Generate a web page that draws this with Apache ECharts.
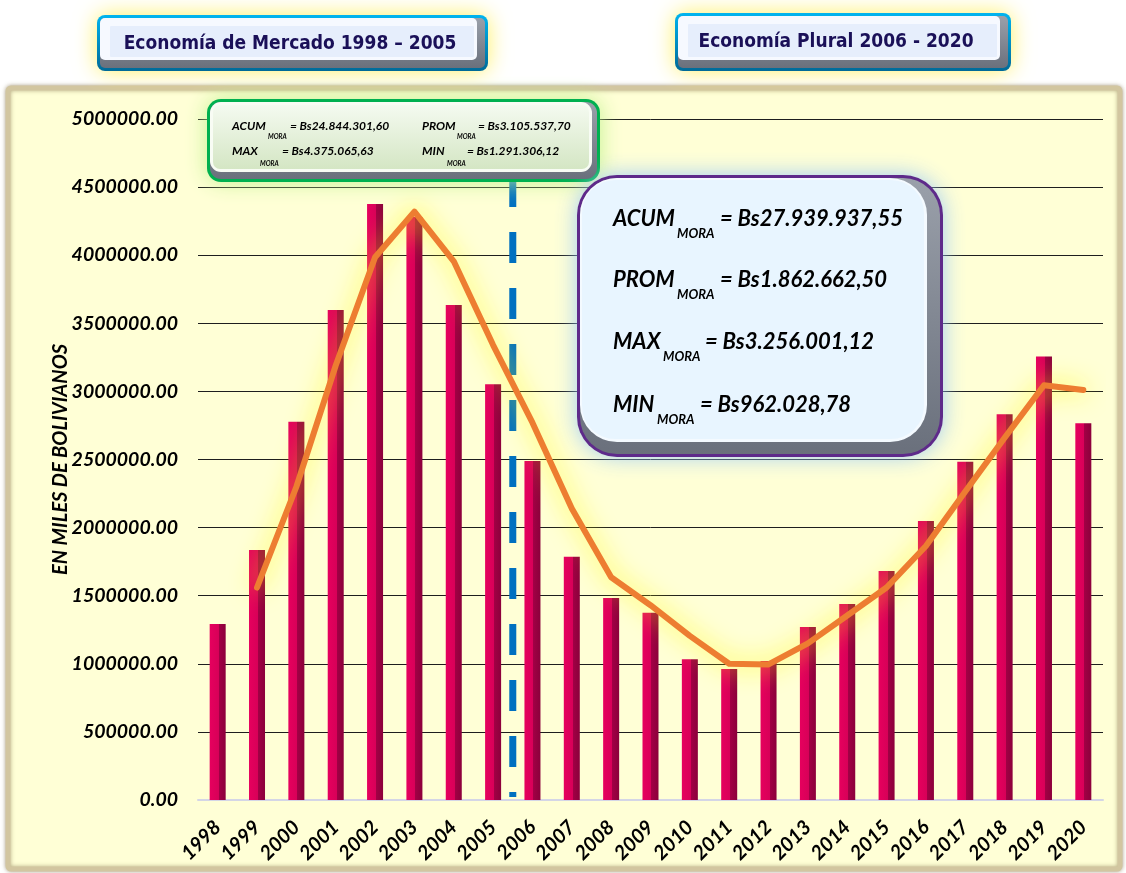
<!DOCTYPE html>
<html>
<head>
<meta charset="utf-8">
<title>Mora 1998 - 2020</title>
<script src="https://cdn.jsdelivr.net/npm/echarts@6/dist/echarts.min.js"></script>
<style>
html,body{margin:0;padding:0;background:#fff;}
#chart{width:1126px;height:873px;}
</style>
</head>
<body>
<div id="chart"></div>
<script>
// años
var years = ['1998','1999','2000','2001','2002','2003','2004','2005','2006','2007','2008','2009',
             '2010','2011','2012','2013','2014','2015','2016','2017','2018','2019','2020'];
// mora por año (barras)
var moraValues = [1291306, 1836000, 2778000, 3598000, 4375066, 4280000, 3634000, 3052000,
                  2489000, 1786000, 1483000, 1375000, 1033000, 962029, 1020000, 1270000,
                  1439000, 1681000, 2048000, 2484000, 2832000, 3256001, 2766000];
// linea de tendencia
var trendValues = [null, 1560000, 2300000, 3190000, 3985000, 4320000, 3955000, 3340000,
                   2770000, 2140000, 1635000, 1430000, 1205000, 1000000, 995000, 1150000,
                   1355000, 1560000, 1865000, 2265000, 2660000, 3045000, 3010000];
// eje y
var yMin = 0, yMax = 5000000, yStep = 500000;
// titulos de periodos
var periodTitles = ['Economía de Mercado 1998 – 2005', 'Economía Plural 2006 - 2020'];
// resumen 1998-2005
var statsMercado = [['ACUM', '= Bs24.844.301,60'], ['PROM', '= Bs3.105.537,70'],
                    ['MAX', '= Bs4.375.065,63'], ['MIN', '= Bs1.291.306,12']];
// resumen 2006-2020
var statsPlural = [['ACUM', '= Bs27.939.937,55'], ['PROM', '= Bs1.862.662,50'],
                   ['MAX', '= Bs3.256.001,12'], ['MIN', '= Bs962.028,78']];

var boldIt = 'italic bold ';

// caja con bisel: borde, bisel oscuro abajo/derecha, bisel claro arriba/izquierda, cara
function bevelBox(x, y, w, h, r, border, glow, light, face, bw, inset) {
    var ix = x + bw, iy = y + bw, iw = w - 2 * bw, ih = h - 2 * bw, ir = Math.max(r - bw, 0);
    return [
        {type:'rect', z:100, shape:{x:x, y:y, width:w, height:h, r:r},
         style:{fill:border, shadowBlur:22, shadowColor:glow}},
        {type:'rect', z:101, shape:{x:ix, y:iy, width:iw, height:ih, r:ir},
         style:{fill:new echarts.graphic.LinearGradient(0,0,0,1,[
             {offset:0, color:'#9aa0aa'},{offset:1, color:'#6a707c'}])}},
        {type:'rect', z:102, shape:{x:ix, y:iy, width:iw - inset[1] + 3, height:ih - inset[2] + 3, r:ir},
         style:{fill:light}},
        {type:'rect', z:103, shape:{x:ix + inset[3], y:iy + inset[0],
             width:iw - inset[1] - inset[3], height:ih - inset[0] - inset[2], r:Math.max(ir - 4, 0)},
         style:{fill:face}}
    ];
}

function txt(x, y, s, font, color, align) {
    return {type:'text', z:110, style:{x:x, y:y, text:s, font:font, fill:color || '#000',
        align:align || 'left', textAlign:align || 'left', verticalAlign:'middle', textVerticalAlign:'middle'}};
}

var chart = echarts.init(document.getElementById('chart'));

var option = {
    backgroundColor:'#ffffff',
    animation:false,
    grid:{left:198, right:23, top:119, bottom:73},
    xAxis:{
        type:'category',
        data:years,
        axisLine:{lineStyle:{color:'#d4d6e6', width:2}},
        axisTick:{show:false},
        axisLabel:{rotate:45, margin:24, interval:0, color:'#000',
            fontFamily:'Lato', fontStyle:'italic', fontWeight:'bold', fontSize:20}
    },
    yAxis:{
        type:'value', min:yMin, max:yMax, interval:yStep,
        name:'EN MILES DE BOLIVIANOS',
        nameLocation:'middle', nameGap:127, nameRotate:90, nameMoveOverlap:false,
        nameTextStyle:{color:'#000', fontFamily:'Lato', fontStyle:'italic', fontWeight:'bold', fontSize:20},
        axisLine:{show:false},
        axisTick:{show:false},
        splitLine:{lineStyle:{color:'#1e1e1e', width:1}},
        axisLabel:{margin:20, color:'#000', fontFamily:'Lato', fontStyle:'italic', fontWeight:'bold', fontSize:19.5,
            formatter:function(v){ return v.toFixed(2); }}
    },
    series:[
        {
            type:'bar',
            data:moraValues,
            barWidth:16,
            z:2,
            itemStyle:{color:new echarts.graphic.LinearGradient(0,0,1,0,[
                {offset:0, color:'#e6005e'},{offset:0.56, color:'#d80058'},
                {offset:0.56, color:'#a20045'},{offset:1, color:'#8c003b'}])}
        },
        {
            type:'line',
            data:trendValues,
            z:4,
            symbol:'none',
            lineStyle:{color:'#ed7d31', width:6, cap:'round', join:'round',
                shadowColor:'rgba(255,250,0,0.95)', shadowBlur:24}
        }
    ]
};
chart.setOption(option);

// linea divisoria entre 2005 y 2006
var x05 = chart.convertToPixel({xAxisIndex:0}, '2005');
var x06 = chart.convertToPixel({xAxisIndex:0}, '2006');
var yZero = chart.convertToPixel({yAxisIndex:0}, 0);
var xDiv = (x05 + x06) / 2;

var g = [];
// panel de fondo
g.push({type:'rect', z:-10, shape:{x:8, y:88, width:1112, height:781, r:3},
    style:{fill:'#ffffd6', stroke:'#d2c6a0', lineWidth:5, shadowBlur:4, shadowColor:'rgba(110,90,50,0.5)'}});
g.push({type:'line', z:1, shape:{x1:xDiv, y1:176, x2:xDiv, y2:yZero-3},
    style:{stroke:'#0070c0', lineWidth:7, lineDash:[31,25]}});

// titulos
var blueBorder = new echarts.graphic.LinearGradient(0,0,0,1,[{offset:0,color:'#00b4f0'},{offset:1,color:'#006a98'}]);
g = g.concat(bevelBox(97, 15, 391, 56, 8, blueBorder, 'rgba(255,240,90,0.95)', '#f6f9ff', '#e6eefc', 3, [8,11,11,10]));
g.push(txt(290, 44, periodTitles[0], 'bold 19px "DejaVu Sans Condensed", "DejaVu Sans"', '#1a1058', 'center'));
g = g.concat(bevelBox(675, 13, 336, 58, 8, blueBorder, 'rgba(255,240,90,0.95)', '#f6f9ff', '#e6eefc', 3, [8,11,11,10]));
g.push(txt(836, 42, periodTitles[1], 'bold 19px "DejaVu Sans Condensed", "DejaVu Sans"', '#1a1058', 'center'));

// caja verde 1998-2005
g = g.concat(bevelBox(207, 99, 393, 83, 14, '#00b050', 'rgba(190,240,140,0.95)', '#f8fcf4',
    new echarts.graphic.LinearGradient(0,0,0,1,[{offset:0,color:'#f4faf0'},{offset:1,color:'#d4e6c4'}]),
    3, [3,8,10,3]));
var gm = [[232,130,268,139,290],[422,130,457,139,478],[232,155,260,166,282],[422,155,447,166,467]];
for (var i = 0; i < statsMercado.length; i++) {
    var p = gm[i];
    g.push(txt(p[0], p[1]-4, statsMercado[i][0], boldIt + '12px Lato'));
    g.push(txt(p[2], p[3]-2, 'MORA', boldIt + '6.5px Lato'));
    g.push(txt(p[4], p[1]-4, statsMercado[i][1], boldIt + '12px Lato'));
}

// caja morada 2006-2020
g = g.concat(bevelBox(577, 175, 366, 282, 40, '#5e2a8a', 'rgba(150,200,250,0.9)', '#f4faff', '#e8f5ff',
    3, [2,16,15,2]));
var gp = [[613,227,677,238,720],[613,288,677,299,720],[613,350,663,361,705],[613,413,657,424,700]];
for (var j = 0; j < statsPlural.length; j++) {
    var q = gp[j];
    g.push(txt(q[0], q[1]-8, statsPlural[j][0], boldIt + '22px Lato'));
    g.push(txt(q[2], q[3]-4, 'MORA', boldIt + '13px Lato'));
    g.push(txt(q[4], q[1]-8, statsPlural[j][1], boldIt + '22px Lato'));
}

chart.setOption({graphic:g});
</script>
</body>
</html>
